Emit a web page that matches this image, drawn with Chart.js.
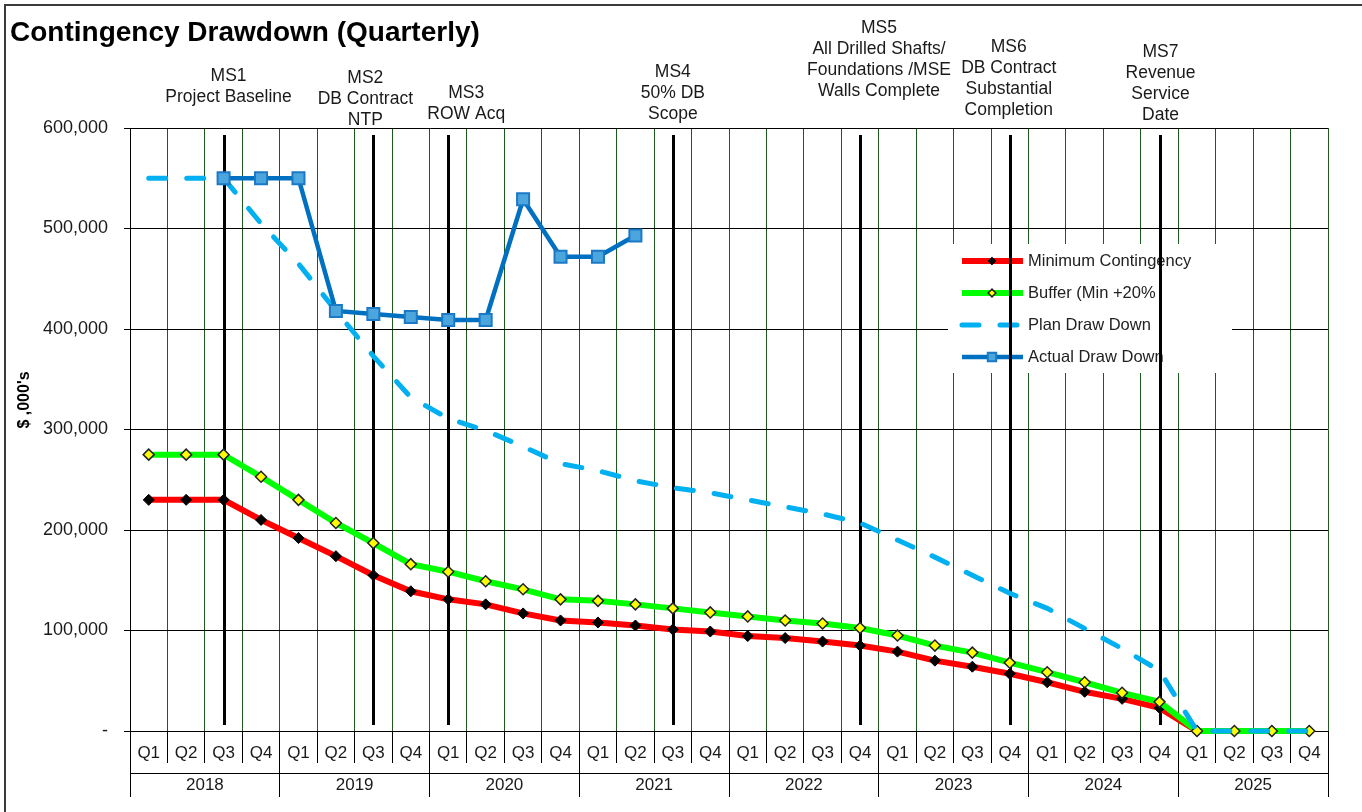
<!DOCTYPE html>
<html>
<head>
<meta charset="utf-8">
<title>Contingency Drawdown (Quarterly)</title>
<script src="https://cdn.jsdelivr.net/npm/chart.js@4.4.0/dist/chart.umd.min.js"></script>
<style>
  html, body { margin: 0; padding: 0; background: #fff; }
  #wrap { width: 1362px; height: 812px; position: relative; background: #fff; }
</style>
</head>
<body>
<div id="wrap"><canvas id="drawdown"></canvas></div>
<script>
/* --------------- Categories --------------------- */
const years = ["2018", "2019", "2020", "2021", "2022", "2023", "2024", "2025"];
const quarters = years.flatMap(() => ["Q1", "Q2", "Q3", "Q4"]);

/* --------------- Series ($ ,000's) --------------------- */
const minContingency = [230000, 230000, 230000, 210000, 192000, 174000, 155000, 139000,
  131000, 126000, 117000, 110000, 108000, 105000, 101000, 99000,
  94500, 92500, 89000, 85000, 79000, 70000, 64000, 57000,
  48500, 39000, 32000, 23000, 0, 0, 0, 0];
const bufferMin20 = [275000, 275000, 275000, 253000, 230000, 207000, 187000, 166000,
  158500, 149000, 141000, 131000, 129500, 126000, 122000, 118000,
  114000, 110000, 107000, 102500, 95000, 85000, 78000, 68000,
  58500, 48500, 38000, 29000, 0, 0, 0, 0];
const planDrawDown = [550000, 550000, 550000, 505000, 465000, 418000, 373000, 332000,
  311000, 299000, 283000, 266000, 259000, 249000, 242000, 237000,
  230000, 223000, 216000, 207000, 190000, 173000, 155000, 137000,
  122000, 102000, 82000, 60000, 0, 0, 0, 0];
const actualDrawDown = [null, null, 550000, 550000, 550000, 418000, 415000, 412000,
  409000, 409000, 529000, 472000, 472000, 493000, null, null,
  null, null, null, null, null, null, null, null,
  null, null, null, null, null, null, null, null];

/* --------------- Milestones (quarter index + caption) --------------------- */
const milestoneAt = [2, 6, 8, 14, 19, 23, 27];
const milestoneText = [
  ["MS1", "Project Baseline"],
  ["MS2", "DB Contract", "NTP"],
  ["MS3", "ROW Acq"],
  ["MS4", "50% DB", "Scope"],
  ["MS5", "All Drilled Shafts/", "Foundations /MSE", "Walls Complete"],
  ["MS6", "DB Contract", "Substantial", "Completion"],
  ["MS7", "Revenue", "Service", "Date"],
];

// caption placement: first line y, horizontal nudge from the bar
const captionTop = [76, 78, 93, 72, 28, 47, 52];
const captionShift = [5, -8, 18, 0, 19, -1, 1];

const FONT = '"Liberation Sans", Arial, sans-serif';
Chart.defaults.font.family = FONT;
Chart.defaults.color = "#1a1a1a";

// same half-pixel snapping Chart.js uses for 1px grid lines
const snap = (px) => Math.round(px - 0.5) + 0.5;

/* --------------- Legend panel --------------------- */
function drawKey(chart) {
  const ctx = chart.ctx;
  ctx.save();
  ctx.fillStyle = "#fff";
  ctx.fillRect(948, 244, 284, 129);
  chart.data.datasets.forEach((ds, i) => {
    const rowY = 261 + i * 32;
    ctx.save();
    ctx.strokeStyle = ds.borderColor;
    ctx.lineWidth = ds.borderWidth;
    ctx.setLineDash(ds.borderDash || []);
    ctx.lineCap = ds.borderCapStyle || "butt";
    ctx.beginPath();
    ctx.moveTo(962, rowY);
    ctx.lineTo(1023, rowY);
    ctx.stroke();
    ctx.restore();
    if (ds.pointRadius > 0) {
      ctx.fillStyle = ds.pointBackgroundColor;
      ctx.strokeStyle = ds.pointBorderColor;
      ctx.lineWidth = ds.pointBorderWidth;
      Chart.helpers.drawPoint(ctx, {
        pointStyle: ds.pointStyle,
        radius: ds.pointRadius * 0.7,
        borderWidth: ds.pointBorderWidth,
        rotation: 0,
      }, 992, rowY);
    }
    ctx.fillStyle = "#222";
    ctx.font = "16.5px " + FONT;
    ctx.textBaseline = "middle";
    ctx.textAlign = "left";
    ctx.fillText(ds.label, 1028, rowY);
  });
  ctx.restore();
}

/* --------------- Milestone bars, captions, title --------------------- */
const milestones = {
  id: "milestones",
  beforeDatasetsDraw(chart) {
    const { ctx, scales: { x, y } } = chart;
    drawKey(chart);
    ctx.save();
    ctx.strokeStyle = "#000";
    ctx.lineWidth = 3;
    milestoneAt.forEach((q) => {
      const px = Math.round(x.getPixelForValue(q)) + 0.5;
      ctx.beginPath();
      ctx.moveTo(px, y.top + 7);
      ctx.lineTo(px, y.bottom - 6);
      ctx.stroke();
    });
    ctx.restore();
  },
  afterDraw(chart) {
    const { ctx, scales: { x } } = chart;
    ctx.save();
    // year boundaries run unbroken from the axis down into the year row
    ctx.strokeStyle = "#000";
    ctx.lineWidth = 1;
    for (let i = 0; i <= years.length; i++) {
      const px = snap(x.getPixelForValue(i * 4 - 0.5));
      ctx.beginPath();
      ctx.moveTo(px, x.top + 30);
      ctx.lineTo(px, x.bottom + 1);
      ctx.stroke();
    }
    // captions above each milestone bar
    ctx.fillStyle = "#1a1a1a";
    ctx.font = "17.5px " + FONT;
    ctx.textAlign = "center";
    ctx.textBaseline = "middle";
    milestoneAt.forEach((q, i) => {
      const cx = x.getPixelForValue(q) + captionShift[i];
      milestoneText[i].forEach((line, k) => {
        ctx.fillText(line, cx, captionTop[i] + k * 21);
      });
    });
    // value axis caption
    ctx.save();
    ctx.translate(25, 400);
    ctx.rotate(-Math.PI / 2);
    ctx.fillStyle = "#000";
    ctx.font = "bold 16px " + FONT;
    ctx.fillText("$ ,000's", 0, 0);
    ctx.restore();
    // chart title
    ctx.fillStyle = "#000";
    ctx.font = "bold 28px " + FONT;
    ctx.textAlign = "left";
    ctx.textBaseline = "alphabetic";
    ctx.fillText("Contingency Drawdown (Quarterly)", 10, 41);
    // outer frame
    ctx.strokeStyle = "#3a3a3a";
    ctx.lineWidth = 2;
    ctx.strokeRect(5, 5, 1400, 900);
    ctx.restore();
  },
};

/* --------------- Chart --------------------- */
let drawdownChart = new Chart(document.getElementById("drawdown"), {
  type: "line",
  plugins: [milestones],
  data: {
    labels: quarters,
    datasets: [
      {
        label: "Minimum Contingency",
        data: minContingency,
        borderColor: "#FF0000",
        borderWidth: 6,
        pointStyle: "rectRot",
        pointRadius: 5.5,
        pointBackgroundColor: "#000",
        pointBorderColor: "#000",
        pointBorderWidth: 1,
        order: 4,
      },
      {
        label: "Buffer (Min +20%",
        data: bufferMin20,
        borderColor: "#00FF00",
        borderWidth: 6,
        pointStyle: "rectRot",
        pointRadius: 5.5,
        pointBackgroundColor: "#FFFF00",
        pointBorderColor: "#222",
        pointBorderWidth: 1.5,
        order: 3,
      },
      {
        label: "Plan Draw Down",
        data: planDrawDown,
        borderColor: "#00B0F0",
        borderWidth: 5,
        borderDash: [17, 21],
        borderCapStyle: "round",
        pointRadius: 0,
        order: 2,
      },
      {
        label: "Actual Draw Down",
        data: actualDrawDown,
        borderColor: "#0070C0",
        borderWidth: 4.5,
        pointStyle: "rect",
        pointRadius: 8.5,
        pointBackgroundColor: "#4BA6DE",
        pointBorderColor: "#1B79C6",
        pointBorderWidth: 2,
        order: 1,
      },
    ],
  },
  options: {
    responsive: true,
    maintainAspectRatio: false,
    animation: false,
    devicePixelRatio: 1,
    layout: { padding: { left: 0, top: 128, right: 34, bottom: 0 } },
    elements: { line: { tension: 0, fill: false } },
    datasets: { line: { clip: false, spanGaps: false } },
    plugins: {
      legend: { display: false },
      tooltip: { enabled: false },
    },
    scales: {
      x: {
        type: "category",
        offset: true,
        weight: 0,
        grid: {
          offset: true,
          color: (c) => (c.index === quarters.length ? "#9a9a9a" : "#1f5a1f"),
          tickColor: "#000",
          tickLength: 32,
          lineWidth: 1,
        },
        border: { display: true, color: "#000", width: 1 },
        ticks: {
          autoSkip: false,
          maxRotation: 0,
          padding: -20,
          font: { size: 17 },
          color: "#1a1a1a",
        },
        afterFit: (s) => { s.height = 42; },
      },
      x2: {
        type: "category",
        labels: years,
        position: "bottom",
        offset: true,
        weight: 1,
        grid: {
          offset: true,
          drawOnChartArea: false,
          color: "#000",
          tickColor: "#000",
          tickLength: 24,
        },
        border: { display: true, color: "#000", width: 1 },
        ticks: {
          autoSkip: false,
          maxRotation: 0,
          padding: -22,
          font: { size: 17 },
          color: "#1a1a1a",
        },
        afterFit: (s) => { s.height = 39; },
      },
      y: {
        min: 0,
        max: 600000,
        grid: { color: "#000", tickLength: 6, lineWidth: 1 },
        border: { display: true, color: "#000", width: 1 },
        ticks: {
          stepSize: 100000,
          padding: 16,
          font: { size: 18 },
          color: "#1a1a1a",
          callback: (v) => (v === 0 ? "-" : v.toLocaleString("en-US")),
        },
        afterFit: (s) => { s.width = 130; },
      },
    },
  },
});
</script>
</body>
</html>
